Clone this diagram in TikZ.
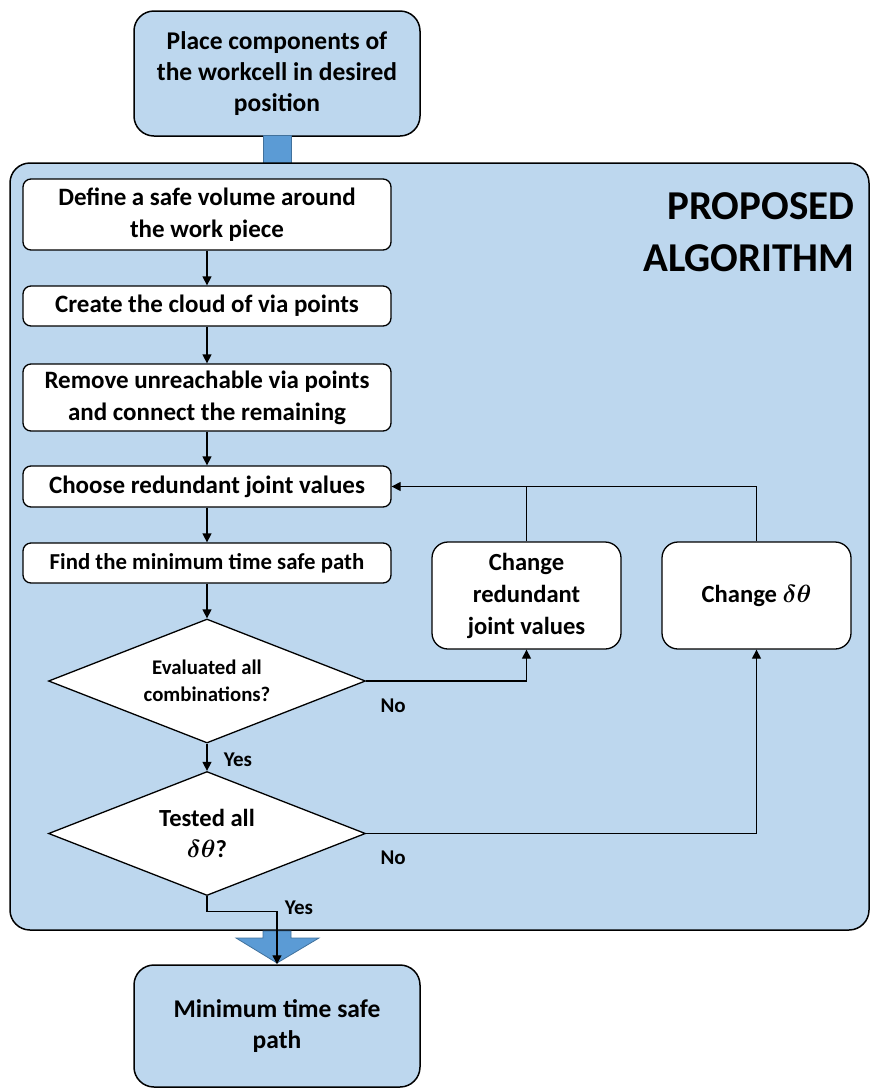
\documentclass[tikz,border=0pt]{standalone}
\usepackage{fontspec}
\setmainfont{Carlito}
\usepackage{bm}
\usetikzlibrary{shapes.geometric,arrows.meta,calc}
\definecolor{lb}{RGB}{189,215,238}
\definecolor{db}{RGB}{91,155,213}
\definecolor{dbb}{RGB}{65,113,156}
\begin{document}
\begin{tikzpicture}[x=1pt,y=-1pt,
  every node/.style={font=\bfseries},
  txt/.style={font=\bfseries\fontsize{25}{32}\selectfont},
  box/.style={draw, line width=1.3pt, fill=white, rounded corners=8pt, minimum width=368pt, align=center, inner sep=0pt, txt},
  bigbox/.style={draw, line width=1.5pt, fill=lb, rounded corners=20pt, minimum width=286pt, align=center, inner sep=0pt, font=\bfseries\fontsize{25.5}{31}\selectfont},
  chbox/.style={draw, line width=1.3pt, fill=white, rounded corners=16pt, minimum width=189pt, minimum height=107pt, align=center, inner sep=0pt, font=\bfseries\fontsize{24.6}{32}\selectfont},
  dec/.style={draw, line width=1.3pt, fill=white, diamond, aspect=2.56, minimum width=317pt, minimum height=124pt, align=center, inner sep=0pt},
  lbl/.style={font=\bfseries\fontsize{21}{24}\selectfont},
  arr/.style={line width=1.3pt, -{Triangle[length=9pt,width=9pt]}},
  ln/.style={line width=1.3pt}]
\useasboundingbox (0,0) rectangle (870,1088);
% top box
\node[bigbox, minimum height=125pt] (top) at (277,73.5) {Place components of\\the workcell in desired\\position};
% blue connector bar
\draw[fill=db, draw=dbb, line width=0.8pt] (263,135.5) rectangle (291,163);
% container
\draw[fill=lb, line width=1.5pt, rounded corners=20pt] (10,163) rectangle (869,930);
\node[anchor=east, align=right, font=\bfseries\fontsize{41}{52}\selectfont] (title) at (858,232) {PROPOSED\\ALGORITHM};
% steps
\node[box, minimum height=71pt] (b1) at (207,214.5) {Define a safe volume around\\the work piece};
\node[box, minimum height=40pt] (b2) at (207,306) {Create the cloud of via points};
\node[box, minimum height=67pt] (b3) at (207,397.5) {Remove unreachable via points\\and connect the remaining};
\node[box, minimum height=41pt] (b4) at (207,486.5) {Choose redundant joint values};
\node[box, minimum height=40pt, font=\bfseries\fontsize{22.8}{31}\selectfont] (b5) at (207,563) {Find the minimum time safe path};
\node[dec, font=\bfseries\fontsize{20.8}{27}\selectfont] (d1) at (207,681) {Evaluated all\\combinations?};
\node[dec, font=\bfseries\boldmath\fontsize{24.6}{31}\selectfont] (d2) at (207,833.5) {Tested all\\$\bm{\delta\theta}$?};
\node[chbox] (ch1) at (526.5,595.5) {Change\\redundant\\joint values};
\node[chbox, font=\bfseries\boldmath\fontsize{24.6}{32}\selectfont] (ch2) at (756.5,595.5) {Change $\bm{\delta\theta}$};
% connectors
\draw[arr] (b1) -- (b2);
\draw[arr] (b2) -- (b3);
\draw[arr] (b3) -- (b4);
\draw[arr] (b4) -- (b5);
\draw[arr] (b5) -- (d1);
\draw[arr] (d1) -- (d2);
\node[lbl] (yes1) at ($(d1.south)+(31,16)$) {Yes};
\draw[arr] (d1.east) -| (ch1.south);
\node[lbl] (no1) at ($(d1.east)+(27,25)$) {No};
\draw[arr] (d2.east) -| (ch2.south);
\node[lbl] (no2) at ($(d2.east)+(27,24)$) {No};
\draw[arr] (ch2.north) |- (b4.east);
\draw[ln] (ch1.north) -- (ch1.north |- b4.east);
% bottom
\node[bigbox, minimum height=122pt] (fin) at (277,1026) {Minimum time safe\\path};
\draw[fill=db, draw=dbb, line width=0.8pt] (263,931) -- (263,938) -- (236,938) -- (277,963) -- (319,938) -- (291,938) -- (291,931) -- cycle;
\coordinate (yc) at ($(d2.south)+(0,15)$);
\draw[arr] (d2.south) -- (yc) -| (fin.north);
\node[lbl] (yes2) at ($(fin.north |- yc)+(22,-3)$) {Yes};
\end{tikzpicture}
\end{document}
